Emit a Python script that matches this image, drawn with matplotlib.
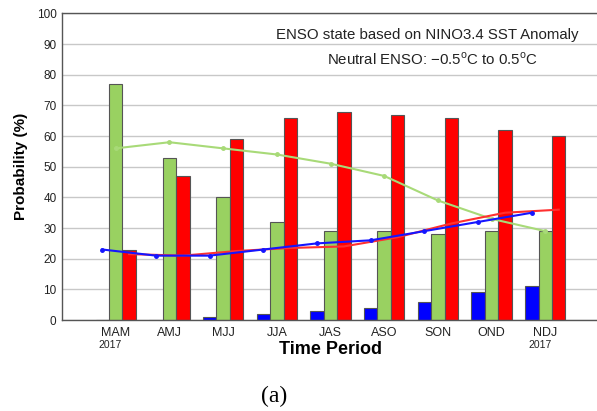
import matplotlib
matplotlib.use("Agg")
import matplotlib.pyplot as plt
import numpy as np

periods = ["MAM", "AMJ", "MJJ", "JJA", "JAS", "ASO", "SON", "OND", "NDJ"]
la_nina = [0, 0, 1, 2, 3, 4, 6, 9, 11]
neutral = [77, 53, 40, 32, 29, 29, 28, 29, 29]
el_nino = [23, 47, 59, 66, 68, 67, 66, 62, 60]
clim_la_nina = [23, 21, 21, 23, 25, 26, 29, 32, 35]
clim_neutral = [56, 58, 56, 54, 51, 47, 39, 33, 29]
clim_el_nino = [21.5, 21, 22.5, 23.5, 24, 27, 31.5, 35, 36]
yticks = list(range(0, 101, 10))

plt.rcParams['font.family'] = ['Liberation Sans', 'DejaVu Sans']
plt.rcParams['mathtext.fontset'] = 'custom'
plt.rcParams['mathtext.rm'] = 'Liberation Sans'

fig = plt.figure(figsize=(5.97, 4.11), dpi=100)
ax = fig.add_axes([62/597, (411-320)/411, 537/597, 306.5/411])

x = np.arange(len(periods))
w = 0.25
edge = '#555555'
green = '#99D161'
ax.bar(x - w, la_nina, w, color='#0000FF', edgecolor=edge, linewidth=0.8, zorder=2)
ax.bar(x, neutral, w, color=green, edgecolor=edge, linewidth=0.8, zorder=2)
ax.bar(x + w, el_nino, w, color='#FF0000', edgecolor=edge, linewidth=0.8, zorder=2)

ax.plot(x, clim_neutral, color='#A8DA78', lw=1.5, marker='o', ms=2.5, zorder=3)
ax.plot(x + w, clim_el_nino, color='#FF3030', lw=1.5, zorder=3)
ax.plot(x - w, clim_la_nina, color='#1515FF', lw=1.5, marker='o', ms=2.5, zorder=4)

ax.set_xlim(-1, 9)
ax.set_ylim(0, 100)
ax.set_yticks(yticks)
ax.set_yticklabels([str(v) for v in yticks], fontsize=8.5, color='#222222')
ax.set_xticks(x)
ax.set_xticklabels(periods, fontsize=9, color='#222222')
ax.tick_params(length=0, pad=5)
ax.tick_params(axis='y', pad=4)
ax.grid(axis='y', color='#C8C8C8', lw=1, zorder=0)
ax.set_axisbelow(True)
for s in ['left', 'bottom', 'top']:
    ax.spines[s].set_color('#555555')
    ax.spines[s].set_linewidth(1)
ax.spines['right'].set_visible(False)

ax.set_ylabel('Probability (%)', fontsize=11, fontweight='bold', labelpad=6)
ax.set_xlabel('Time Period', fontsize=13, fontweight='bold', labelpad=1.5)

for i in [0, 8]:
    ax.text(x[i] - 0.1, -0.083, '2017', transform=ax.get_xaxis_transform(),
            ha='center', va='center', fontsize=7.5, color='#222222')

fig.text(578/597, 1 - 35/411, 'ENSO state based on NINO3.4 SST Anomaly',
         ha='right', va='center', fontsize=10.8, color='#222222')
fig.text(432/597, 1 - 59/411,
         'Neutral ENSO: \u22120.5$^{\\mathrm{o}}$C to 0.5$^{\\mathrm{o}}$C',
         ha='center', va='center', fontsize=10.8, color='#222222')

fig.text(274/597, 1 - 396/411, '(a)', ha='center', va='center',
         fontsize=17, family='Liberation Serif')

fig.savefig('out.png', dpi=100)
